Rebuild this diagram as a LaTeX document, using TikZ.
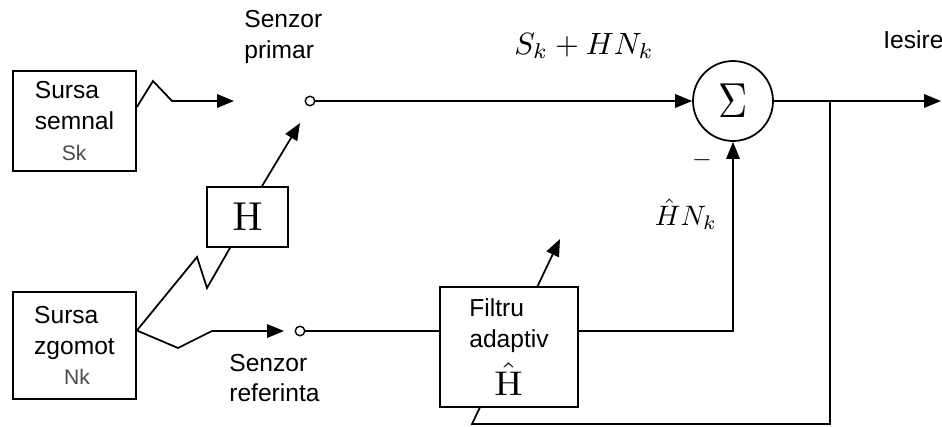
\documentclass[tikz,border=0pt]{standalone}
\usepackage[no-math]{fontspec}
\usepackage{graphicx}
\setmainfont{Liberation Sans}
\usetikzlibrary{arrows.meta,calc,backgrounds}

\begin{document}
\begin{tikzpicture}[x=0.02cm, y=-0.02cm,
		every node/.style={font=\fontsize{14}{17.5}\selectfont},
		block/.style={draw, rectangle, line width=1pt, inner sep=0pt, fill=white},
		sensor/.style={draw, circle, line width=0.8pt, minimum size=0.19cm, inner sep=0pt, fill=white},
		tag/.style={inner sep=0pt, align=left},
		mathtag/.style={font=\fontsize{10}{10}\selectfont},
		arrow/.style={line width=1pt, -{Triangle[length=0.34cm,width=0.27cm]}},
		wire/.style={line width=1pt},
	]
	\useasboundingbox (0,0) rectangle (942,426);

	\node[block, minimum width=2.46cm, minimum height=2cm, align=left]   (semnal) at (74.5,121)  {Sursa\\semnal\\\hspace*{0.54cm}{\fontsize{12}{18.5}\selectfont\color{black!70}Sk}};
	\node[block, minimum width=2.46cm, minimum height=2.14cm, align=left] (zgomot) at (74.5,345.5) {Sursa\\zgomot\\\hspace*{0.6cm}{\fontsize{12}{18.5}\selectfont\color{black!70}Nk}};
	\node[block, minimum width=1.62cm, minimum height=1.2cm] (hbox) at (247.5,217) {{\fontsize{10}{10}\selectfont\scalebox{2.3}{$\mathrm{H}$}}};
	\node[block, minimum width=2.76cm, minimum height=2.4cm, align=left]  (filt) at (509,347) {Filtru\\adaptiv\\[5pt]\hspace*{0.5cm}{\fontsize{10}{10}\selectfont\scalebox{2.15}[1.95]{$\hat{\mathrm{H}}$}}};
	\node[draw, circle, line width=1pt, minimum size=1.6cm, inner sep=0pt, mathtag] (sum) at (733,101) {\scalebox{2.3}[2.8]{$\Sigma$}};
	\node[sensor] (prim) at (310,101) {};
	\node[sensor] (ref)  at (300,331) {};

	% labels
	\node[tag, anchor=west] (lprim) at (244,37)  {Senzor\\primar};
	\node[tag, anchor=west] (lref)  at (229,378) {Senzor\\referinta};
	\node[tag, anchor=west] (lout)  at (883,40)  {Iesire};
	\node[mathtag] (lsum) at (584,46)  {\scalebox{1.75}{$S_k + HN_k$}};
	\node[mathtag] (lhat) at (686,214) {\scalebox{1.6}{$\hat{H}N_k$}};
	\node (lminus) at (702,160) {$-$};

	\coordinate (ptip) at (234,101);
	\coordinate (htip) at (300,123);
	\coordinate (rtip) at (284,331);
	\coordinate (atip) at (560,239);
	\coordinate (out)  at (941,101);
	\coordinate (tap)  at (830,101);

	\draw[arrow] ($(semnal.east)+(0,-14)$) -- (153,81) -- (172,101) -- (ptip);
	\draw[arrow] ($(hbox.north)+(14.5,0)$) -- (htip);
	\draw[wire]  ($(zgomot.east)+(0,-15)$) -- (197,257) -- (207,288) -- ($(hbox.south)+(-17.5,0)$);
	\draw[arrow] ($(zgomot.east)+(0,-15)$) -- (178,348) -- (212,331) -- (rtip);
	\draw[wire]  (ref) -- (ref -| filt.west);
	\draw[arrow] (prim) -- (sum);
	\draw[arrow] (ref -| filt.east) -| (sum);
	\draw[arrow] (sum) -- (out);
	\begin{scope}[on background layer]
		\draw[arrow] (tap) -- (830,424) -- (472,424) -- (atip);
	\end{scope}
\end{tikzpicture}
\end{document}
